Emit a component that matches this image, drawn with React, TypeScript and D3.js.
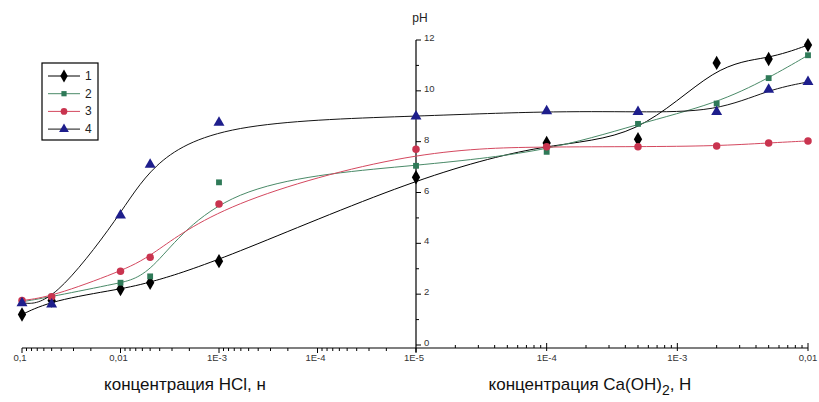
import React from 'react'
import * as d3 from 'd3'

// concentrations (HCl on the left, Ca(OH)2 on the right), water point in the middle
const acidConc = [0.1, 0.05, 0.01, 0.005, 0.001]
const waterConc = 1e-5
const baseConc = [1e-4, 5e-4, 2e-3, 5e-3, 0.01]

const ph1 = [1.2, 1.75, 2.2, 2.45, 3.3, 6.6, 7.95, 8.1, 11.1, 11.25, 11.8]
const ph2 = [1.7, 1.9, 2.45, 2.7, 6.4, 7.05, 7.6, 8.7, 9.5, 10.5, 11.4]
const ph3 = [1.75, 1.9, 2.9, 3.45, 5.55, 7.7, 7.8, 7.8, 7.83, 7.95, 8.03]
const ph4 = [1.65, 1.6, 5.1, 7.1, 8.75, 9.0, 9.2, 9.17, 9.17, 10.05, 10.35]

const seriesNames = ['1', '2', '3', '4']

const acidTicks = [0.1, 0.01, 1e-3, 1e-4, 1e-5]
const acidTickLabels = ['0,1', '0,01', '1E-3', '1E-4', '1E-5']
const baseTicks = [1e-4, 1e-3, 0.01]
const baseTickLabels = ['1E-4', '1E-3', '0,01']
const yTicks = [0, 2, 4, 6, 8, 10, 12]

const width = 819
const height = 402

const xAcid = d3.scaleLog().domain([0.1, 1e-5]).range([22, 416])
const xBase = d3.scaleLog().domain([1e-5, 0.01]).range([416, 808])
const y = d3.scaleLinear().domain([0, 12]).range([345, 40])
const axisY = 348

const xs = [
    ...acidConc.map(c => xAcid(c)),
    xAcid(waterConc),
    ...baseConc.map(c => xBase(c)),
]

const styles = [
    { line: '#000000', fill: '#000000', shape: d3.symbolDiamond, size: 60 },
    { line: '#4a8a68', fill: '#2f7a58', shape: d3.symbolSquare, size: 34 },
    { line: '#d4485f', fill: '#c9344f', shape: d3.symbolCircle, size: 44 },
    { line: '#141414', fill: '#1e1e8c', shape: d3.symbolTriangle, size: 52 },
]

const allSeries = [ph1, ph2, ph3, ph4]

const line = d3.line<[number, number]>()
    .x(d => d[0])
    .y(d => y(d[1]))
    .curve(d3.curveBasis)

const font = 'Liberation Sans, Arial, sans-serif'
const tickFont = { fontFamily: font, fontSize: 9.5, fill: '#333' }

function App() {
    const isMinor = (t: number) => Math.abs(Math.log10(t) - Math.round(Math.log10(t))) > 1e-6
    const minorAcid = xAcid.ticks().filter(isMinor)
    const minorBase = xBase.ticks().filter(isMinor)

    return (
        <svg width={width} height={height} style={{ position: 'absolute', left: 0, top: 0, background: '#fff' }}>
            {/* x axis */}
            <line x1={22} x2={808} y1={axisY} y2={axisY} stroke="#000" strokeWidth={1.2} />
            {minorAcid.map((t, i) => (
                <line key={'ma' + i} x1={xAcid(t)} x2={xAcid(t)} y1={axisY} y2={axisY + 3} stroke="#000" />
            ))}
            {acidTicks.map((t, i) => (
                <line key={'ta' + i} x1={xAcid(t)} x2={xAcid(t)} y1={axisY} y2={axisY + 5} stroke="#000" />
            ))}
            {minorBase.map((t, i) => (
                <line key={'mb' + i} x1={xBase(t)} x2={xBase(t)} y1={axisY} y2={axisY - 3} stroke="#000" />
            ))}
            {baseTicks.map((t, i) => (
                <line key={'tb' + i} x1={xBase(t)} x2={xBase(t)} y1={axisY - 5} y2={axisY + 3} stroke="#000" />
            ))}
            {acidTicks.map((t, i) => (
                <text key={'la' + i} x={xAcid(t) - 2} y={361} textAnchor="middle" {...tickFont}>{acidTickLabels[i]}</text>
            ))}
            {baseTicks.map((t, i) => (
                <text key={'lb' + i} x={xBase(t)} y={361} textAnchor="middle" {...tickFont}>{baseTickLabels[i]}</text>
            ))}

            {/* y axis */}
            <line x1={416} x2={416} y1={y(12)} y2={352} stroke="#000" strokeWidth={1.2} />
            {d3.range(0, 13).map(v => (
                <line key={'yt' + v} x1={416} x2={416 + (v % 2 === 0 ? 5 : 3)} y1={y(v)} y2={y(v)} stroke="#000" />
            ))}
            {yTicks.map(v => (
                <text key={'yl' + v} x={424} y={y(v) + 1} {...tickFont}>{v}</text>
            ))}
            <text x={420} y={22} textAnchor="middle" fontFamily={font} fontSize={12} fill="#222">pH</text>

            {/* curves */}
            {allSeries.map((s, i) => (
                <path key={'c' + i} d={line(s.map((v, j) => [xs[j], v] as [number, number])) || ''}
                    fill="none" stroke={styles[i].line} strokeWidth={1} />
            ))}
            {allSeries.map((s, i) => (
                <g key={'p' + i}>
                    {s.map((v, j) => (
                        <path key={j} transform={`translate(${xs[j]},${y(v)})`}
                            d={d3.symbol().type(styles[i].shape).size(styles[i].size)() || ''}
                            fill={styles[i].fill} />
                    ))}
                </g>
            ))}

            {/* legend */}
            <rect x={42} y={63} width={56} height={77} fill="#fff" stroke="#000" strokeWidth={1.2} />
            {seriesNames.map((n, i) => {
                const ly = 76 + i * 17.7
                return (
                    <g key={'lg' + i}>
                        <line x1={48} x2={80} y1={ly} y2={ly} stroke={styles[i].line} />
                        <path transform={`translate(64,${ly})`}
                            d={d3.symbol().type(styles[i].shape).size(styles[i].size * 0.8)() || ''}
                            fill={styles[i].fill} />
                        <text x={85} y={ly + 4} fontFamily={font} fontSize={12} fill="#222">{n}</text>
                    </g>
                )
            })}

            {/* axis titles */}
            <text x={185} y={390} textAnchor="middle" fontFamily={font} fontSize={17} fill="#111">
                концентрация HCl, н
            </text>
            <text x={590} y={390} textAnchor="middle" fontFamily={font} fontSize={17} fill="#111">
                концентрация Ca(OH)<tspan dy={5} fontSize={14}>2</tspan><tspan dy={-5}>, Н</tspan>
            </text>
        </svg>
    )
}

export default App
